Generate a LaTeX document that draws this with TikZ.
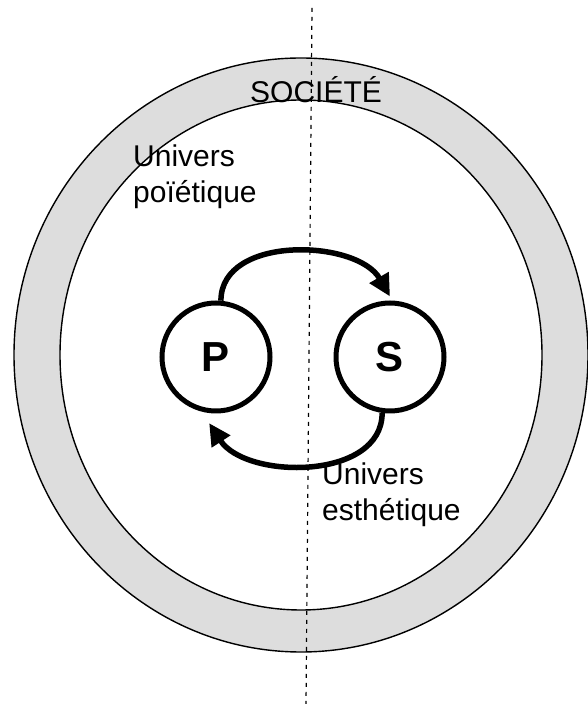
\documentclass[tikz,border=0pt]{standalone}
\usepackage{fontspec}
\setmainfont{Liberation Sans}
\usepackage{tikz}
\usetikzlibrary{arrows.meta,positioning}

\begin{document}
\begin{tikzpicture}[
    x=1pt, y=1pt,
    agentnode/.style={draw, circle, line width=5pt, minimum size=108pt, inner sep=0pt, font=\fontsize{42}{42}\selectfont\bfseries},
    flowedge/.style={-{Triangle[length=22pt,width=21pt]}, line width=5.5pt},
    labelnode/.style={inner sep=0pt, align=left, font=\fontsize{30}{36}\selectfont},
    ringline/.style={line width=1.4pt}
]
\useasboundingbox (0,0) rectangle (587,704);
\coordinate (C) at (301,349);
\fill[gray!27, even odd rule] (C) ellipse [x radius=287, y radius=297] (C) ellipse [x radius=241, y radius=255];
\draw[ringline] (C) ellipse [x radius=287, y radius=297];
\draw[ringline] (C) ellipse [x radius=241, y radius=255];

\node[labelnode, anchor=base] (soc) at (316,601) {SOCIÉTÉ};
\node[labelnode, anchor=north west] (poi) at (133,559) {Univers\\poïétique};
\node[labelnode, anchor=north west] (est) at (322,241) {Univers\\esthétique};

\coordinate (axtop) at (312,696);
\coordinate (axbot) at (306,0);
\draw[line width=1.2pt, dash pattern=on 4pt off 5pt] (axtop) -- (axbot);

\node[agentnode] (P) at (216,347) {P};
\node[agentnode] (S) at (390,347) {S};

\draw[flowedge] (P.85) to[out=90, in=120] ([yshift=4pt]S.north);
\draw[flowedge] (S.262) to[out=-90, in=-57] ([yshift=-10pt]P.263);
\end{tikzpicture}
\end{document}
